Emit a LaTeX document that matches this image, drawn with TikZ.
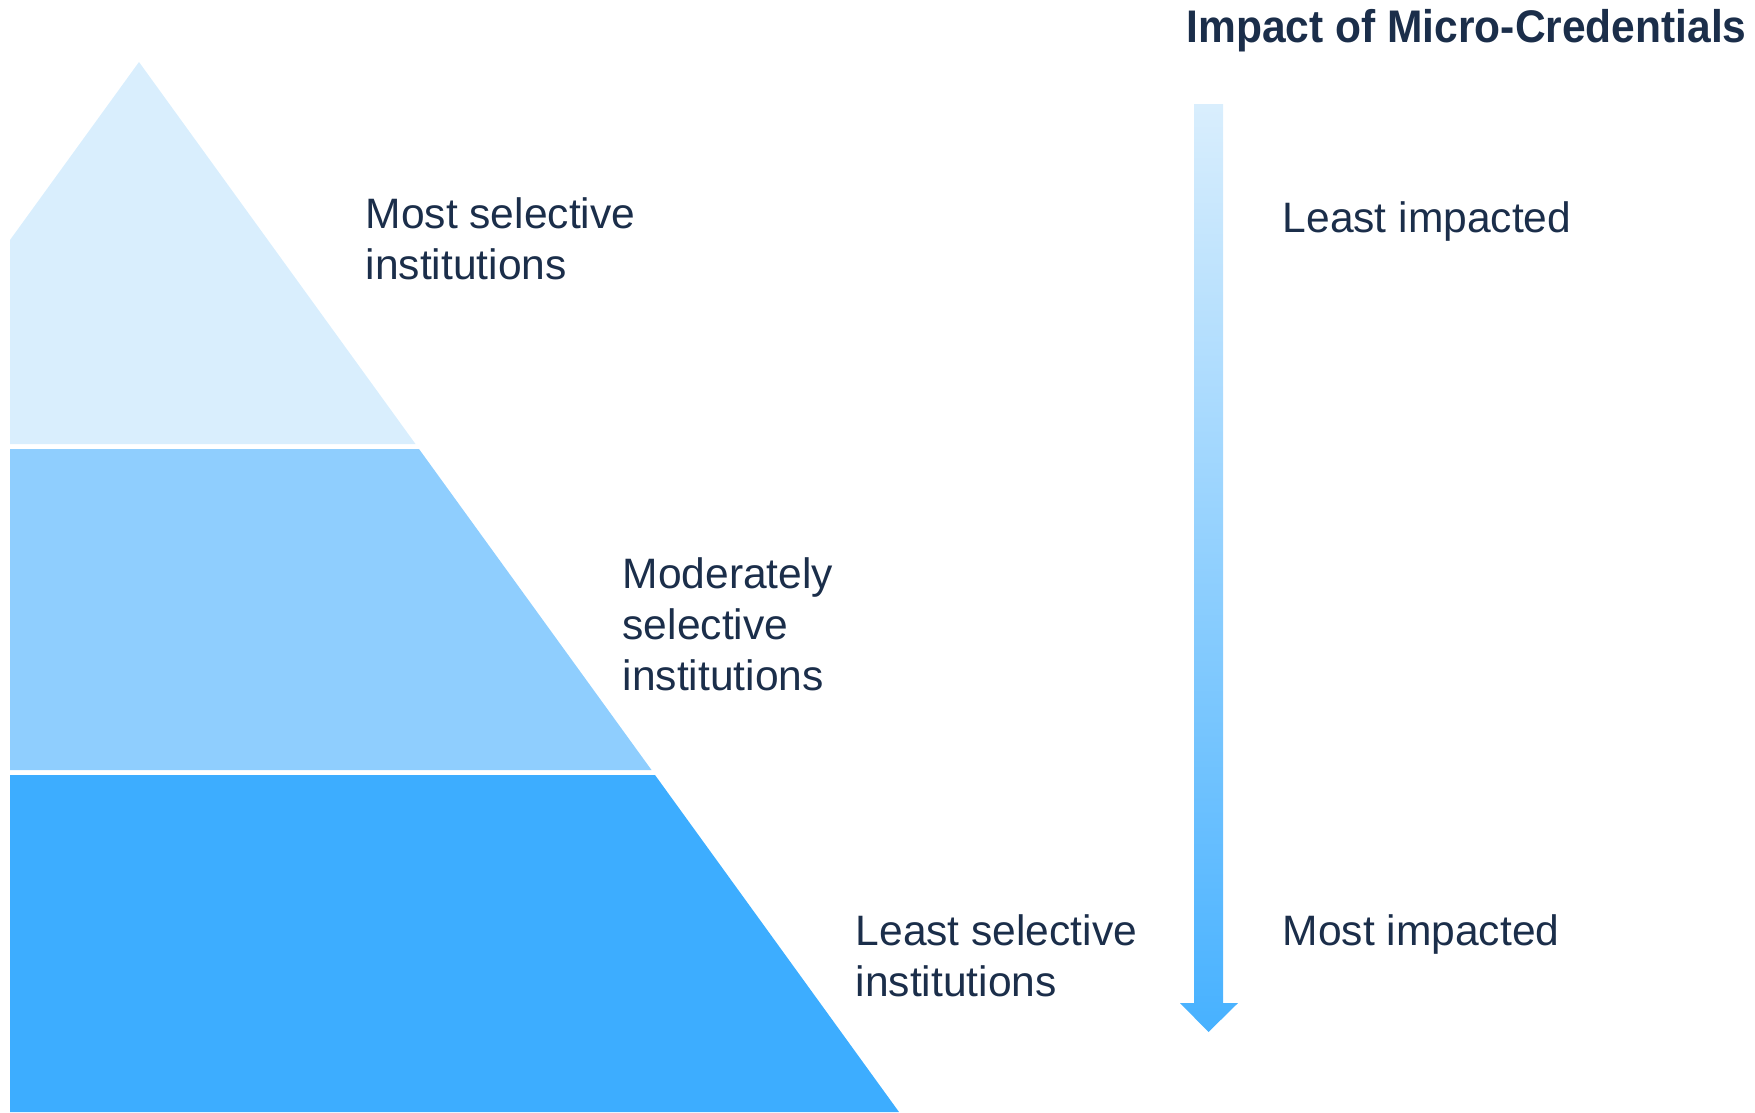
\documentclass[tikz,border=0pt]{standalone}
\usepackage{fontspec}
\setmainfont{Liberation Sans}
\newfontfamily\headfont[FakeStretch=0.93]{Liberation Sans}
\usetikzlibrary{positioning}

\definecolor{tierlight}{HTML}{D9EEFD}
\definecolor{tiermid}{HTML}{8FCEFE}
\definecolor{tierdark}{HTML}{3DADFF}
\definecolor{inkblue}{HTML}{1B2E4A}

\begin{document}
\begin{tikzpicture}[
    x=0.01cm, y=-0.01cm,
    lbl/.style={anchor=base west, align=left, inner sep=0pt, text=inkblue,
                font=\fontsize{12.1pt}{14.5pt}\selectfont},
    heading/.style={anchor=base west, inner sep=0pt, text=inkblue,
                font=\headfont\fontsize{13pt}{14.5pt}\selectfont\bfseries},
]
\useasboundingbox (0,0) rectangle (1755,1112);

% Pyramid tiers
\fill[tierlight] (10,240) -- (139,62) -- (415.5,444) -- (10,444) -- cycle;
\fill[tiermid] (10,449) -- (419,449) -- (651.5,770) -- (10,770) -- cycle;
\fill[tierdark] (10,775) -- (655,775) -- (899,1112) -- (10,1112) -- cycle;

% Tier labels (anchored on last line)
\node[lbl] (MostSel) at (365,279) {Most selective\\institutions};
\node[lbl] (ModSel) at (622,690) {Moderately\\selective\\institutions};
\node[lbl] (LeastSel) at (855,996) {Least selective\\institutions};

% Impact arrow
\node[heading] (Title) at (1186,42) {Impact of Micro-Credentials};
\shade[top color=tierlight, bottom color=tierdark!95!white]
    (1194,104) -- (1223,104) -- (1223,1003) -- (1238,1003) -- (1208.5,1032)
    -- (1180,1003) -- (1194,1003) -- cycle;

% Impact labels
\node[lbl] (LeastImp) at (1282,232) {Least impacted};
\node[lbl] (MostImp) at (1282,945) {Most impacted};

\end{tikzpicture}
\end{document}
